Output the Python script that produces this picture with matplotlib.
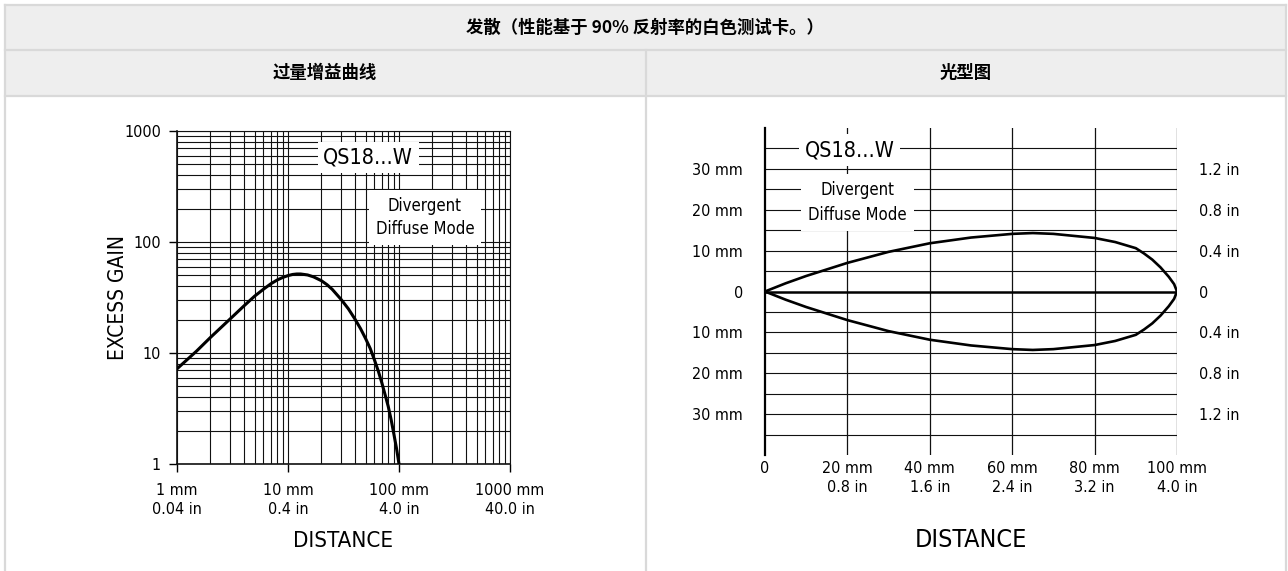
import matplotlib
matplotlib.use('Agg')
import matplotlib.pyplot as plt
from matplotlib.patches import Rectangle
from matplotlib.ticker import LogLocator, NullFormatter

# ==========================================
# 1. DATA
# ==========================================

title_text = '发散（性能基于 90% 反射率的白色测试卡。）'
left_header = '过量增益曲线'
right_header = '光型图'

# Excess gain curve (log-log)
gain_dist_mm = [1, 1.5, 2, 3, 4, 5, 6, 7, 8, 9, 10, 11, 12, 13, 15, 17, 20, 22.5, 25, 30,
                35, 40, 45, 50, 55, 60, 65, 70, 75, 80, 85, 90, 95, 100]
gain_values = [7.2, 10.4, 13.8, 20.2, 26.5, 32.5, 37.5, 42.0, 45.5, 48.0, 49.8, 51.0, 51.5, 51.5,
               50.5, 48.5, 44.8, 41.2, 37.5, 30.5, 25.0, 20.3, 16.6, 13.5, 11.0, 8.7, 6.9, 5.4,
               4.2, 3.3, 2.5, 1.85, 1.38, 1.0]
gain_xticks = [1, 10, 100, 1000]
gain_xlabels = ['1 mm\n0.04 in', '10 mm\n0.4 in', '100 mm\n4.0 in', '1000 mm\n40.0 in']
gain_yticks = [1, 10, 100, 1000]
gain_ylabels = ['1', '10', '100', '1000']

# Beam pattern (upper half, lower half is the mirror)
beam_dist_mm = [0, 5, 10, 20, 30, 40, 50, 60, 65, 70, 80, 85, 90, 92, 94, 96, 98, 99.3, 100]
beam_half_mm = [0, 2.0, 3.8, 7.0, 9.7, 11.8, 13.2, 14.1, 14.3, 14.1, 13.1, 12.1, 10.6,
                9.3, 7.8, 5.9, 3.6, 1.8, 0]
beam_xticks = [0, 20, 40, 60, 80, 100]
beam_xlabels = ['0', '20 mm\n0.8 in', '40 mm\n1.6 in', '60 mm\n2.4 in', '80 mm\n3.2 in', '100 mm\n4.0 in']
beam_yticks = [30, 20, 10, 0, -10, -20, -30]
beam_ylabels_mm = ['30 mm', '20 mm', '10 mm', '0', '10 mm', '20 mm', '30 mm']
beam_ylabels_in = ['1.2 in', '0.8 in', '0.4 in', '0', '0.4 in', '0.8 in', '1.2 in']
beam_grid_y = [-35, -30, -25, -20, -15, -10, -5, 5, 10, 15, 20, 25, 30, 35]

# ==========================================
# 2. FIGURE + TABLE FRAME
# ==========================================

# narrow sans to get close to the condensed Helvetica of the original
plt.rcParams['font.family'] = ['DejaVu Sans']
plt.rcParams['font.stretch'] = 'condensed'
W, H = 1288, 571
fig = plt.figure(figsize=(W / 100, H / 100), dpi=100)

bg = fig.add_axes([0, 0, 1, 1])
bg.set_xlim(0, W)
bg.set_ylim(H, 0)
bg.axis('off')
border = '#d9d9d9'
bg.add_patch(Rectangle((5, 5), 1281, 91, facecolor='#eeeeee', edgecolor='none'))
bg.plot([5, 1286], [5, 5], color=border, lw=1.6)
bg.plot([5, 1286], [50, 50], color=border, lw=1.6)
bg.plot([5, 1286], [96, 96], color=border, lw=1.6)
bg.plot([5, 5], [5, H], color=border, lw=1.6)
bg.plot([1286, 1286], [5, H], color=border, lw=1.6)
bg.plot([646, 646], [50, H], color=border, lw=1.6)

cjk = ['Noto Sans CJK SC', 'DejaVu Sans']
bg.text(645, 28, title_text, ha='center', va='center', fontsize=12.5, fontweight='bold',
        family=cjk, fontstretch='normal')
bg.text(325, 73, left_header, ha='center', va='center', fontsize=12.5, fontweight='bold',
        family=cjk, fontstretch='normal')
bg.text(966, 73, right_header, ha='center', va='center', fontsize=12.5, fontweight='bold',
        family=cjk, fontstretch='normal')

def px_axes(x0, y0, x1, y1):
    # pixel box (top-left origin) -> figure fraction
    return fig.add_axes([x0 / W, (H - y1) / H, (x1 - x0) / W, (y1 - y0) / H])

# ==========================================
# 3. EXCESS GAIN CHART
# ==========================================

ax1 = px_axes(177, 131, 510, 464)
ax1.set_xscale('log')
ax1.set_yscale('log')
ax1.set_xlim(1, 1000)
ax1.set_ylim(1, 1000)
ax1.xaxis.set_minor_locator(LogLocator(base=10, subs=range(2, 10)))
ax1.yaxis.set_minor_locator(LogLocator(base=10, subs=range(2, 10)))
ax1.xaxis.set_minor_formatter(NullFormatter())
ax1.yaxis.set_minor_formatter(NullFormatter())
ax1.grid(True, which='both', color='#111111', lw=0.8)
ax1.set_xticks(gain_xticks, gain_xlabels)
ax1.set_yticks(gain_yticks, gain_ylabels)
ax1.tick_params(which='major', direction='out', length=5.5, width=1.0, labelsize=11.5)
ax1.tick_params(axis='x', pad=8)
ax1.tick_params(axis='y', pad=6)
ax1.tick_params(which='minor', length=0)
for lab in ax1.get_xticklabels():
    lab.set_linespacing(1.35)
for sp in ax1.spines.values():
    sp.set_color('#111111')
    sp.set_linewidth(0.8)
ax1.spines['left'].set_linewidth(1.2)
ax1.spines['bottom'].set_linewidth(1.2)

ax1.plot(gain_dist_mm, gain_values, color='black', lw=2.2, zorder=5)
ax1.text(52.7, 580, 'QS18...W', ha='center', va='center', fontsize=15.5, zorder=6,
         bbox=dict(facecolor='white', edgecolor='none', pad=4))
ax1.text(171, 167, 'Divergent\nDiffuse Mode', ha='center', va='center', fontsize=12,
         linespacing=1.35, zorder=6, bbox=dict(facecolor='white', edgecolor='none', pad=5))
ax1.set_xlabel('DISTANCE', fontsize=16, labelpad=10)
ax1.set_ylabel('EXCESS GAIN', fontsize=15, labelpad=-3)

# ==========================================
# 4. BEAM PATTERN CHART
# ==========================================

ax2 = px_axes(765, 128, 1177, 455)
ax2.set_xlim(0, 100)
ax2.set_ylim(-40, 40)
for sp in ['top', 'bottom', 'right']:
    ax2.spines[sp].set_visible(False)
ax2.spines['left'].set_linewidth(1.6)
ax2.spines['left'].set_color('black')
for yv in beam_grid_y:
    ax2.plot([0, 100], [yv, yv], color='#111111', lw=0.8, zorder=1)
for xv in beam_xticks[1:]:
    ax2.axvline(xv, color='#111111', lw=0.9, zorder=1)
ax2.plot([0, 100], [0, 0], color='black', lw=1.8, zorder=3)

ax2.plot(beam_dist_mm, beam_half_mm, color='black', lw=1.9, zorder=4)
ax2.plot(beam_dist_mm, [-v for v in beam_half_mm], color='black', lw=1.9, zorder=4)

ax2.set_xticks(beam_xticks, beam_xlabels)
ax2.set_yticks(beam_yticks, beam_ylabels_mm)
ax2.tick_params(length=0, labelsize=11.5)
ax2.tick_params(axis='x', pad=4)
ax2.tick_params(axis='y', pad=16)
for lab in ax2.get_xticklabels():
    lab.set_linespacing(1.35)
ax2r = ax2.twinx()
ax2r.set_ylim(-40, 40)
ax2r.set_yticks(beam_yticks, beam_ylabels_in)
ax2r.tick_params(length=0, labelsize=11.5, pad=16)
for sp in ax2r.spines.values():
    sp.set_visible(False)

ax2.text(20.5, 34.6, 'QS18...W', ha='center', va='center', fontsize=15.5, zorder=6,
         bbox=dict(facecolor='white', edgecolor='none', pad=4))
ax2.text(22.5, 21.8, 'Divergent\nDiffuse Mode', ha='center', va='center', fontsize=12,
         linespacing=1.45, zorder=6, bbox=dict(facecolor='white', edgecolor='none', pad=5))
ax2.set_xlabel('DISTANCE', fontsize=18, labelpad=24)

fig.savefig('out.png', dpi=100)
